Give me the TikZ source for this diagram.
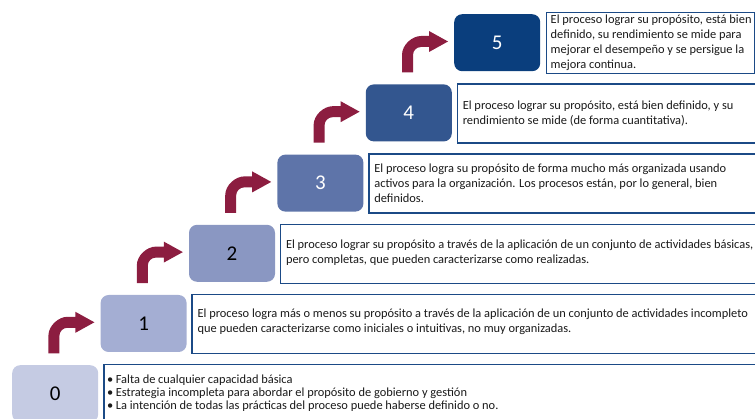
\documentclass[tikz,border=0pt]{standalone}
\usepackage{fontspec}
\setmainfont{Carlito}
\definecolor{c0}{HTML}{C5CBE3}
\definecolor{c1}{HTML}{A4AED3}
\definecolor{c2}{HTML}{8A97C2}
\definecolor{c3}{HTML}{5E74A9}
\definecolor{c4}{HTML}{33568F}
\definecolor{c5}{HTML}{0A3E7D}
\definecolor{arrowred}{HTML}{8C1D40}
\definecolor{framecol}{HTML}{1B4A86}
\definecolor{txt}{HTML}{1A1A1A}
\tikzset{
  numbox/.style={rounded corners=8pt, draw=none, minimum width=86pt, minimum height=57pt,
    anchor=north west, inner sep=0pt, font=\fontsize{21}{21}\selectfont},
  descbox/.style={draw=framecol, line width=1.5pt, fill=white, anchor=north west,
    minimum height=59pt, inner sep=0pt},
  desctext/.style={anchor=west, inner sep=0pt, align=left, text=txt,
    font=\fontsize{12.4}{15}\selectfont},
  bentarrow/.style={fill=arrowred, draw=none}
}
\begin{document}
\begin{tikzpicture}[x=1pt,y=-1pt]
\useasboundingbox (0,0) rectangle (755,419);
\clip (0,0) rectangle (755,419);
% numbered boxes
\node[numbox, fill=c0, text=black] (b0) at (12,365) {0};
\node[numbox, fill=c1, text=black] (b1) at (100.4,294.8) {1};
\node[numbox, fill=c2, text=black] (b2) at (188.8,224.6) {2};
\node[numbox, fill=c3, text=white] (b3) at (277.2,154.4) {3};
\node[numbox, fill=c4, text=white] (b4) at (365.6,84.2) {4};
\node[numbox, fill=c5, text=white] (b5) at (454,14) {5};
% description boxes
\node[descbox, minimum width=660pt, minimum height=70pt] (d0) at (103,364) {};
\node[desctext, anchor=north west, font=\fontsize{12.4}{13}\selectfont] (t0) at (107,374.5)
  {\textbullet\hspace{2.5pt}Falta de cualquier capacidad básica\\
   \textbullet\hspace{2.5pt}Estrategia incompleta para abordar el propósito de gobierno y gestión\\
   \textbullet\hspace{2.5pt}La intención de todas las prácticas del proceso puede haberse definido o no.};
\node[descbox, minimum width=570pt] (d1) at (191.4,293.8) {};
\node[desctext] (t1) at ([xshift=6pt,yshift=2pt]d1.west)
  {El proceso logra más o menos su propósito a través de la aplicación de un conjunto de actividades incompleto\\
   que pueden caracterizarse como iniciales o intuitivas, no muy organizadas.};
\node[descbox, minimum width=480pt] (d2) at (279.8,223.6) {};
\node[desctext] (t2) at ([xshift=6pt,yshift=1.5pt]d2.west)
  {El proceso lograr su propósito a través de la aplicación de un conjunto de actividades básicas,\\
   pero completas, que pueden caracterizarse como realizadas.};
\node[descbox, minimum width=395pt] (d3) at (368.2,153.4) {};
\node[desctext] (t3) at ([xshift=6pt]d3.west)
  {El proceso logra su propósito de forma mucho más organizada usando\\
   activos para la organización. Los procesos están, por lo general, bien\\
   definidos.};
\node[descbox, minimum width=305pt] (d4) at (456.6,83.2) {};
\node[desctext] (t4) at ([xshift=6pt]d4.west)
  {El proceso lograr su propósito, está bien definido, y su\\
   rendimiento se mide (de forma cuantitativa).};
\node[descbox, minimum width=208pt, minimum height=61pt] (d5) at (545.5,12) {};
\node[desctext] (t5) at ([xshift=5pt]d5.west)
  {El proceso lograr su propósito, está bien\\
   definido, su rendimiento se mide para\\
   mejorar el desempeño y se persigue la\\
   mejora continua.};
% bent arrows
\foreach \i in {1,...,5}{
  \pgfmathsetmacro{\L}{12+88.4*\i}
  \pgfmathsetmacro{\T}{365-70.2*\i}
  \pgfmathsetmacro{\xo}{\L-52}
  \pgfmathsetmacro{\xi}{\L-41}
  \pgfmathsetmacro{\xh}{\L-25}
  \pgfmathsetmacro{\xt}{\L-6}
  \pgfmathsetmacro{\yc}{\T+27.5}
  \pgfmathsetmacro{\ytop}{\yc-5.5}
  \pgfmathsetmacro{\ybot}{\yc+5.5}
  \pgfmathsetmacro{\yb}{\T+58.5}
  \fill[bentarrow]
    (\xo,\yb) -- (\xo,\ytop+19)
    .. controls (\xo,\ytop+8.5) and (\xo+10.5,\ytop) .. (\xo+19,\ytop)
    -- (\xh,\ytop) -- (\xh,\yc-10.5) -- (\xt,\yc) -- (\xh,\yc+10.5) -- (\xh,\ybot)
    -- (\xi+8,\ybot)
    .. controls (\xi+3.6,\ybot) and (\xi,\ybot+3.6) .. (\xi,\ybot+8)
    -- (\xi,\yb) -- cycle;
}
\end{tikzpicture}
\end{document}
